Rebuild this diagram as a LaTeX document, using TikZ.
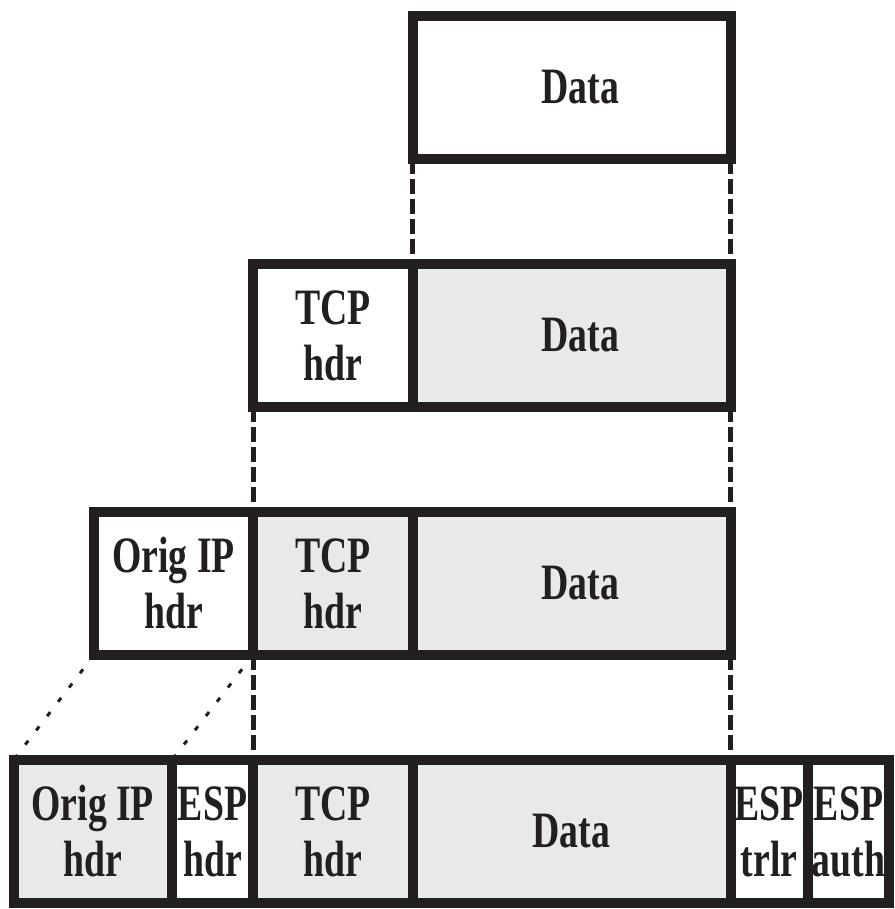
\documentclass[tikz,border=0pt]{standalone}
\usepackage{fontspec}
\newfontfamily\cellfont{Liberation Serif}[FakeStretch=0.74]
\usepackage{xcolor}
\definecolor{frame}{HTML}{231F20}
\definecolor{shade}{HTML}{E9E9EB}

\begin{document}
\begin{tikzpicture}[x=1pt,y=-1pt,
		cell/.style={draw=frame, line width=10pt, inner sep=0pt, outer sep=0pt,
			anchor=north west, minimum height=\rowh pt, align=center, text=frame,
			font=\cellfont\bfseries\fontsize{51}{56}\selectfont},
		plain/.style={cell, fill=white},
		shaded/.style={cell, fill=shade},
		link/.style={draw=frame, line width=5pt, dash pattern=on 15pt off 5pt},
		slant/.style={draw=frame, line width=3pt, dash pattern=on 5pt off 13pt}]
			\def\rowh{143}
			\def\shift{\hspace*{18pt}}

			\useasboundingbox (0,0) rectangle (894,909);

			% plain data
			\node [plain, minimum width=318pt] (data1) at (412.5,16) {\shift Data};

			% tcp segment
			\node [plain, minimum width=159.5pt] (tcp2) at (253,264) {TCP\\hdr};
			\node [shaded, minimum width=318pt] (data2) at (412.5,264) {\shift Data};

			% ip packet
			\node [plain, minimum width=159pt] (ip3) at (94,512) {Orig IP\\hdr};
			\node [shaded, minimum width=159.5pt] (tcp3) at (253,512) {TCP\\hdr};
			\node [shaded, minimum width=318pt] (data3) at (412.5,512) {\shift Data};

			% esp packet
			\node [shaded, minimum width=158.5pt] (ip4) at (13.5,760) {Orig IP\\hdr};
			\node [plain, minimum width=81pt] (esph4) at (172,760) {ESP\\hdr};
			\node [shaded, minimum width=159.5pt] (tcp4) at (253,760) {TCP\\hdr};
			\node [shaded, minimum width=318pt] (data4) at (412.5,760) {Data};
			\node [plain, minimum width=77.5pt] (espt4) at (730.5,760) {ESP\\trlr};
			\node [plain, minimum width=81pt] (espa4) at (808,760) {ESP\\auth};

			\begin{scope}
				\draw [link] (data1.south west) -- (data2.north west);
				\draw [link] (data1.south east) -- (data2.north east);

				\draw [link] (tcp2.south west) -- (tcp3.north west);
				\draw [link] (data2.south east) -- (data3.north east);

				\draw [link] (tcp3.south west) -- (tcp4.north west);
				\draw [link] (data3.south east) -- (data4.north east);
			\end{scope}
			\begin{scope}
				\draw [slant] (ip3.south west) -- (ip4.north west);
				\draw [slant] (ip3.south east) -- (esph4.north west);
			\end{scope}
		\end{tikzpicture}
\end{document}
